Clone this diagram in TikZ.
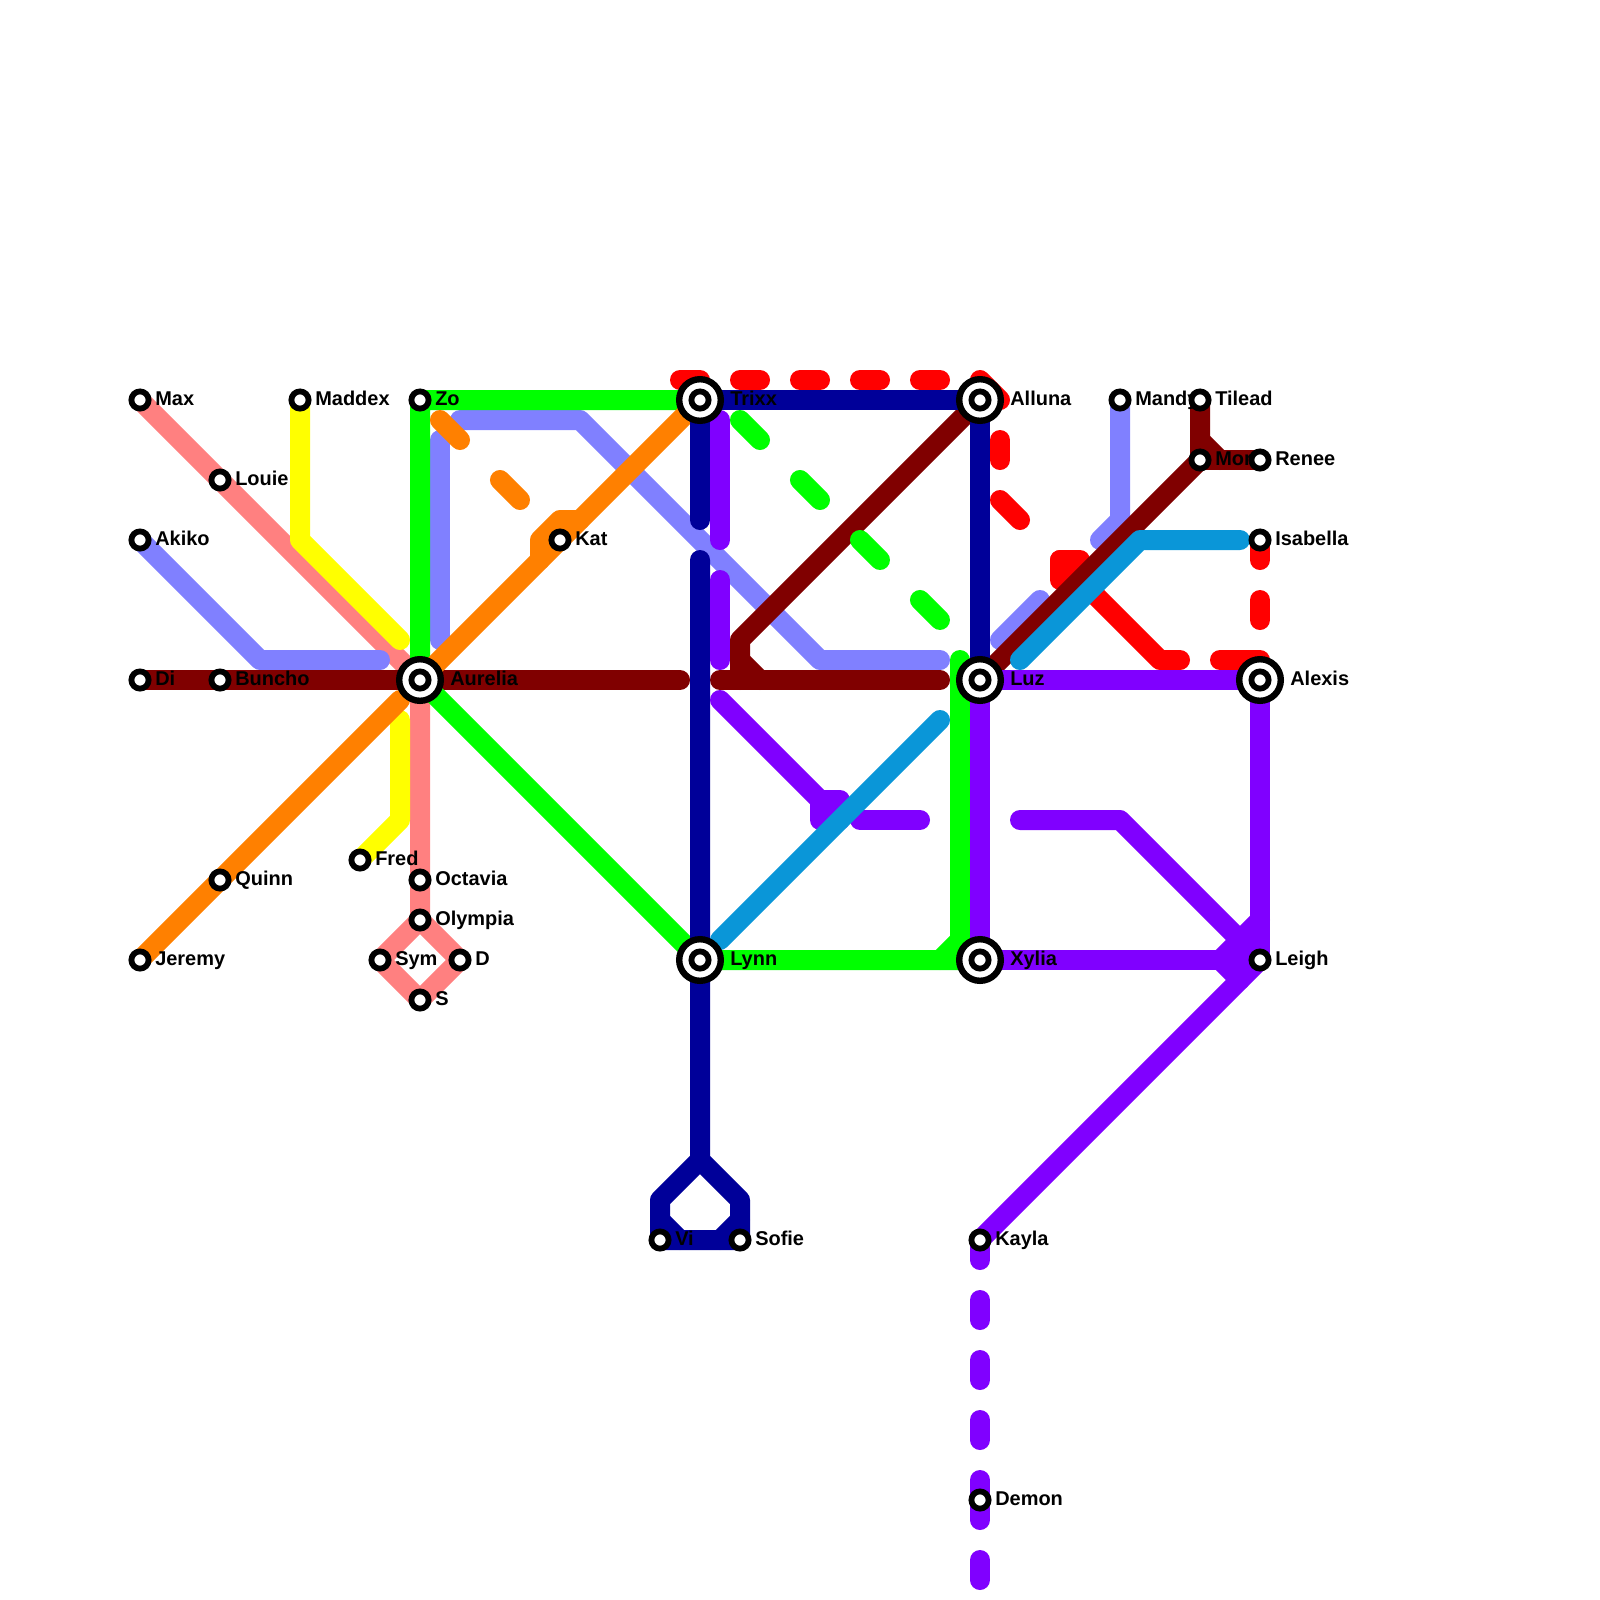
\documentclass[tikz,border=0pt]{standalone}
\usepackage{fontspec}
\setmainfont{Liberation Sans}
\pgfdeclarelayer{lines}
\pgfsetlayers{lines,main}
\definecolor{pinkline}{HTML}{FF8080}
\definecolor{periline}{HTML}{8080FF}
\definecolor{yellowline}{HTML}{FFFF00}
\definecolor{greenline}{HTML}{00FF00}
\definecolor{orangeline}{HTML}{FF8000}
\definecolor{brownline}{HTML}{800000}
\definecolor{navyline}{HTML}{000099}
\definecolor{purpleline}{HTML}{8000FF}
\definecolor{blueline}{HTML}{0A96D8}
\definecolor{redline}{HTML}{FF0000}
\tikzset{
  tube/.style={line width=0.5cm,line cap=round,line join=round},
  tubedash/.style={tube,dash pattern=on 0.5cm off 1cm},
  diagdash/.style={tube,dash pattern=on 0.707cm off 1.414cm},
  stn/.style={circle,draw=black,fill=white,line width=0.145cm,minimum size=0.43cm,inner sep=0pt},
  bigstn/.style={circle,draw=black,fill=white,line width=0.16cm,minimum size=1.04cm,inner sep=0pt},
  lbl/.style={anchor=base west,inner sep=0pt,font=\bfseries\fontsize{14.2pt}{16pt}\selectfont}
}
\begin{document}
\begin{tikzpicture}[x=0.5cm,y=-0.5cm]
\useasboundingbox (0,0) rectangle (80,80);

    % Small stations, each with its label
    \foreach \nm/\x/\y/\txt in {max/7/20/Max,louie/11/24/Louie,akiko/7/27/Akiko,di/7/34/Di,buncho/11/34/Buncho,
      maddex/15/20/Maddex,zo/21/20/Zo,kat/28/27/Kat,fred/18/43/Fred,octavia/21/44/Octavia,olympia/21/46/Olympia,
      sym/19/48/Sym,d/23/48/D,s/21/50/S,quinn/11/44/Quinn,jeremy/7/48/Jeremy,vi/33/62/Vi,sofie/37/62/Sofie,
      kayla/49/62/Kayla,demon/49/75/Demon,mandy/56/20/Mandy,tilead/60/20/Tilead,mor/60/23/Mor,renee/63/23/Renee,
      isabella/63/27/Isabella,leigh/63/48/Leigh}
    {
        \node[lbl] (\nm-t) at (\x+0.75,\y+0.25) {\txt};
        \node[stn] (\nm) at (\x,\y) {};
    }

    % Interchanges
    \foreach \nm/\x/\y/\txt in {aurelia/21/34/Aurelia,trixx/35/20/Trixx,alluna/49/20/Alluna,luz/49/34/Luz,
      alexis/63/34/Alexis,lynn/35/48/Lynn,xylia/49/48/Xylia}
    {
        \node[lbl] (\nm-t) at (\x+1.5,\y+0.25) {\txt};
        \node[bigstn] (\nm) at (\x,\y) {};
        \node[stn] (\nm-c) at (\x,\y) {};
    }

    % Free ends of the lines
    \foreach \nm/\x/\y in {yel-a/20/32,yel-b/20/36,per-a/19/33,per-b/22/32,per-c/22/22,per-d/23/21,per-e/47/33,
      per-f/50/32,per-g/52/30,per-h/55/27,red-a/34/19,red-b/47/19,red-c/49/19,red-d/50/20,red-e/50/22,red-f/50/23,
      red-g/50/25,red-h/51/26,red-i/54/28,red-j/59/33,red-k/61/33,red-l/63/33,red-m/63/31,
      bro-a/34/34,bro-b/36/34,bro-c/47/34,gre-a/37/21,gre-b/47/31,gre-c/48/33,ora-a/20/35,ora-b/22/21,ora-c/26/25,
      nav-a/35/26,nav-b/35/28,pur-a/36/21,pur-b/36/27,pur-c/36/29,pur-d/36/33,pur-e/36/35,pur-f/42/40,pur-g/41/41,
      pur-h/43/41,pur-i/46/41,pur-j/51/41,pur-k/49/79,blu-a/36/47,blu-b/47/36,blu-c/51/33,blu-d/62/27}
    {
        \coordinate (\nm) at (\x,\y);
    }

\begin{pgfonlayer}{lines}
    % Pink line and its diamond
    \draw[tube,pinkline] (max.center) -- (louie.center) -- (aurelia.center) -- (octavia.center) -- (olympia.center);
    \draw[tube,pinkline] (olympia.center) -- (sym.center) -- (s.center) -- (d.center) -- cycle;

    % Periwinkle line
    \draw[tube,periline] (akiko.center) -- (13,33) -- (per-a);
    \draw[tube,periline] (per-b) -- (per-c);
    \draw[tube,periline] (per-d) -- (29,21) -- (41,33) -- (per-e);
    \draw[tube,periline] (per-f) -- (per-g);
    \draw[tube,periline] (mandy.center) -- (56,26) -- (per-h);

    % Yellow line
    \draw[tube,yellowline] (maddex.center) -- (15,27) -- (yel-a);
    \draw[tube,yellowline] (yel-b) -- (20,41) -- (fred.center);

    % Red line
    \draw[tubedash,redline] (red-a) -- (red-b);
    \draw[tube,redline] (red-c) -- (red-d);
    \draw[tube,redline] (red-e) -- (red-f);
    \draw[tube,redline] (red-g) -- (red-h);
    \draw[tube,redline] (red-i) -- (53,28) -- (53,29) -- (54,29) -- cycle;
    \draw[tube,redline] (53,28) -- (58,33) -- (red-j);
    \draw[tube,redline] (red-k) -- (red-l);
    \draw[tubedash,redline] (isabella.center) -- (red-m);

    % Brown line
    \draw[tube,brownline] (di.center) -- (buncho.center) -- (aurelia.center) -- (bro-a);
    \draw[tube,brownline] (bro-b) -- (bro-c);
    \draw[tube,brownline] (alluna.center) -- (37,32) -- (37,34);
    \draw[tube,brownline] (37,33) -- (38,34);
    \draw[tube,brownline] (luz.center) -- (mor.center) -- (tilead.center);
    \draw[tube,brownline] (mor.center) -- (renee.center);
    \draw[tube,brownline] (60,22) -- (61,23);

    % Green line
    \draw[tube,greenline] (trixx.center) -- (zo.center) -- (aurelia.center) -- (lynn.center) -- (xylia.center);
    \draw[tube,greenline] (47,48) -- (48,47) -- (gre-c);
    \draw[diagdash,greenline] (gre-a) -- (gre-b);

    % Orange line
    \draw[tube,orangeline] (jeremy.center) -- (quinn.center) -- (ora-a);
    \draw[tube,orangeline] (aurelia.center) -- (kat.center) -- (trixx.center);
    \draw[tube,orangeline] (27,28) -- (27,27) -- (28,26) -- (29,26);
    \draw[diagdash,orangeline] (ora-b) -- (ora-c);

    % Navy line
    \draw[tube,navyline] (nav-a) -- (trixx.center) -- (alluna.center) -- (luz.center);
    \draw[tube,navyline] (nav-b) -- (lynn.center) -- (35,58) -- (33,60) -- (vi.center) -- (sofie.center) -- (37,60) -- (35,58);
    \draw[tube,navyline] (33,61) -- (34,62);
    \draw[tube,navyline] (37,61) -- (36,62);

    % Purple line
    \draw[tube,purpleline] (pur-a) -- (pur-b);
    \draw[tube,purpleline] (pur-c) -- (pur-d);
    \draw[tube,purpleline] (pur-e) -- (41,40) -- (pur-f) -- (42,41) -- (pur-g) -- (41,40);
    \draw[tube,purpleline] (pur-h) -- (pur-i);
    \draw[tube,purpleline] (pur-j) -- (56,41) -- (leigh.center);
    \draw[tube,purpleline] (xylia.center) -- (luz.center) -- (alexis.center) -- (leigh.center) -- (xylia.center);
    \draw[tube,purpleline] (63,46) -- (61,48) -- (62,49);
    \draw[tube,purpleline] (leigh.center) -- (kayla.center);
    \draw[tubedash,purpleline] (kayla.center) -- (demon.center);
    \draw[tubedash,purpleline] (demon.center) -- (pur-k);

    % Blue line
    \draw[tube,blueline] (blu-a) -- (blu-b);
    \draw[tube,blueline] (blu-c) -- (57,27) -- (blu-d);
\end{pgfonlayer}

\end{tikzpicture}
\end{document}
